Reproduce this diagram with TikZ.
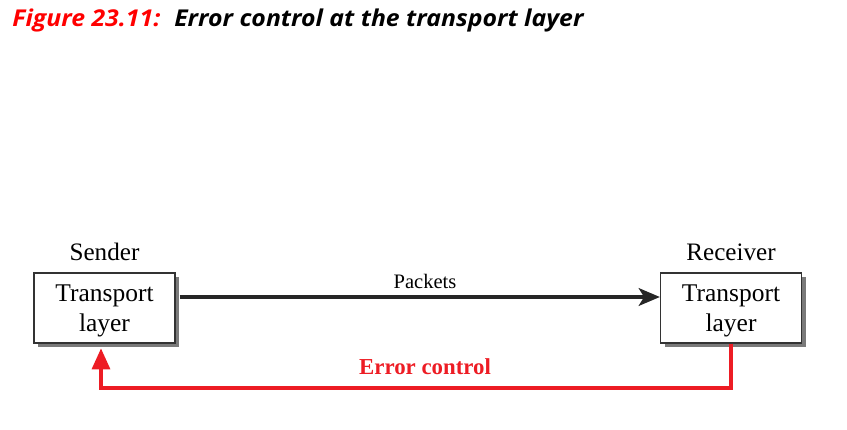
\documentclass[tikz,border=0pt]{standalone}
\usepackage{fontspec}
\setmainfont{Liberation Serif}
\newfontfamily\titlefont[FakeStretch=1.07]{Open Sans}
\usepackage{xcolor}
\usepackage{tikz}
\usetikzlibrary{positioning, arrows.meta, shadows}

\definecolor{errred}{HTML}{ED1C24}
\definecolor{boxgray}{HTML}{7A7A7A}

\begin{document}
\begin{tikzpicture}[x=0.02cm, y=-0.02cm,
  layerbox/.style={draw=black!80, fill=white, line width=0.7pt,
    minimum width=2.82cm, minimum height=1.4cm, align=center,
    text depth=0pt, font=\fontsize{14.5}{17}\selectfont,
    drop shadow={shadow xshift=2.3pt, shadow yshift=-2.3pt, fill=boxgray, opacity=1}},
  sidelabel/.style={font=\fontsize{14.3}{17}\selectfont, anchor=base}]
\useasboundingbox (0,0) rectangle (847,429);
% Title
\node[anchor=base west, inner sep=0pt, font=\titlefont\fontsize{13.2}{15}\selectfont\bfseries\itshape]
  (title) at (12,27) {\textcolor{red}{Figure 23.11:}\hspace{0.6em}Error control at the transport layer};
% Two transport layers
\node[layerbox] (sender) at (104.5,308) {Transport\\layer};
\node[layerbox] (receiver) at (731,308) {Transport\\layer};
\node[sidelabel] (sendername) at (104.5,260) {Sender};
\node[sidelabel] (receivername) at (731,260) {Receiver};
% Packets forward
\draw[line width=2.4pt, black!85, -{Stealth[length=12pt, width=10pt, inset=3pt]}]
  (sender.east) ++(4,-11) coordinate (pstart) -- (pstart -| receiver.west);
\node[anchor=base, font=\fontsize{11.7}{14}\selectfont] (packets) at (425,288) {Packets};
% Error control back to sender
\coordinate (ret) at (101,388);
\draw[line width=2.4pt, errred, -{Triangle[length=12pt, width=10pt]}, shorten >=2.6pt]
  (receiver.south) |- (ret) -- (sender.south -| ret);
\node[anchor=base, font=\fontsize{13}{15}\selectfont\bfseries, text=errred] (errlabel) at (425,374) {Error control};
\end{tikzpicture}
\end{document}
